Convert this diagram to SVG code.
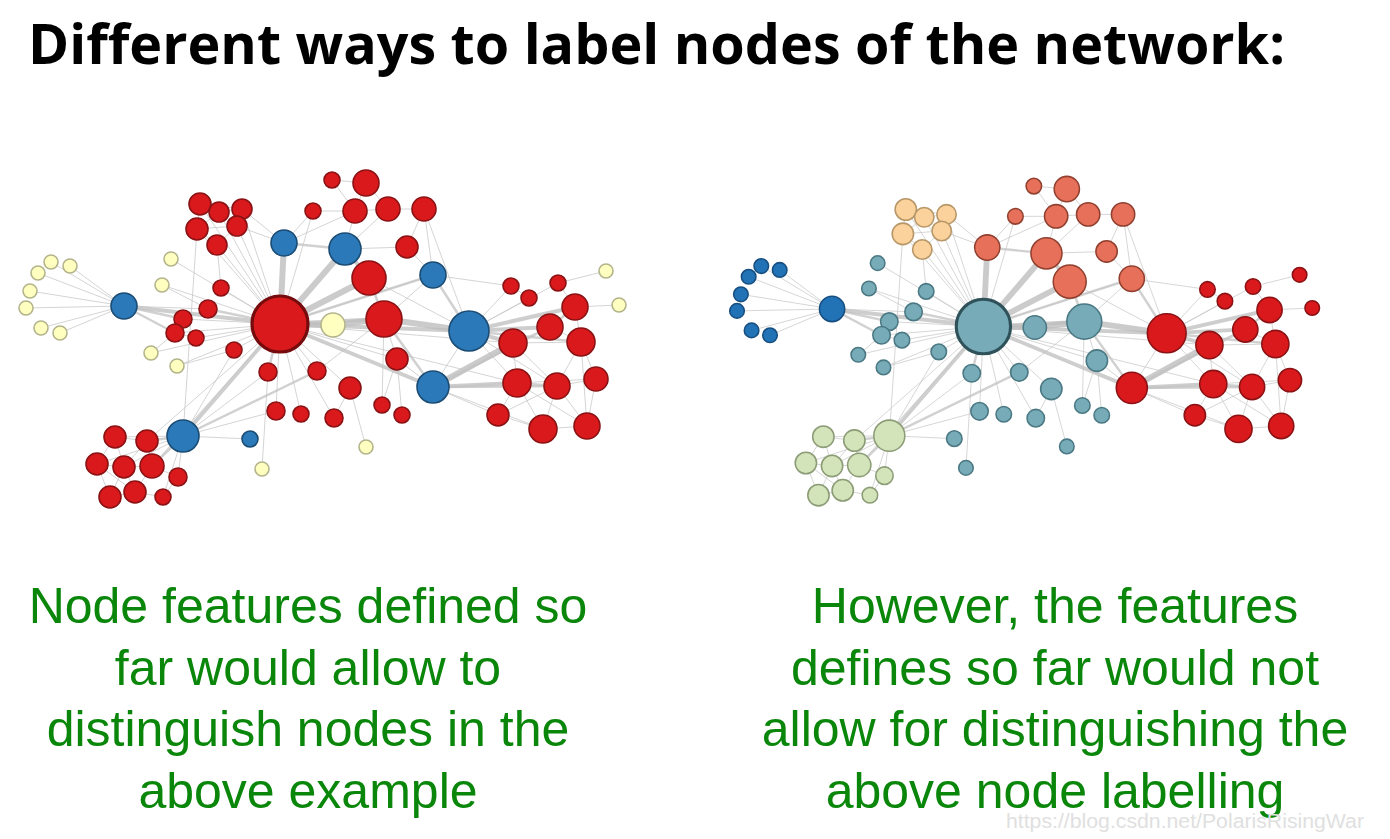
<svg xmlns="http://www.w3.org/2000/svg" xmlns:xlink="http://www.w3.org/1999/xlink" width="1390" height="839" viewBox="0 0 1390 839">
<style>
.title{font-family:"Open Sans","Liberation Sans",sans-serif;font-weight:bold;font-size:56px;fill:#000}
.cap{font-family:"Liberation Sans",Arial,sans-serif;font-size:50px;fill:#0a870a;text-anchor:middle}
.wm{font-family:"Liberation Sans",Arial,sans-serif;font-size:20px;fill:#e0e0e0}
.e line{stroke:#c6c6c6;stroke-width:1;stroke-opacity:.75;stroke-linecap:round}
.e line.w2{stroke:#c2c2c2;stroke-width:2.5}
.e line.w3{stroke:#bebebe;stroke-width:4}
.e line.w4{stroke:#bababa;stroke-width:6}
circle{stroke-width:1.6}
.red circle{fill:#d9191c;stroke:#8a1214}
.blue circle{fill:#2b79b8;stroke:#1b4c74}
.yel circle{fill:#ffffc0;stroke:#b4b48c}
.teal circle{fill:#76abb7;stroke:#4a7883}
.dblue circle{fill:#2272b6;stroke:#164e80}
.salm circle{fill:#e7705a;stroke:#91402f}
.peach circle{fill:#fbd19c;stroke:#b79768}
.green circle{fill:#d4e4ba;stroke:#8c9c76}
.hub circle{stroke-width:3.2}
.red.hub circle{stroke:#760b0d}
.teal.hub circle{stroke:#2f525a}
</style>
<defs>
<g id="edgeset" class="e">
<line x1="51" y1="262" x2="124" y2="306"/><line x1="70" y1="266" x2="124" y2="306"/><line x1="38" y1="273" x2="124" y2="306"/><line x1="30" y1="291" x2="124" y2="306"/><line x1="26" y1="308" x2="124" y2="306"/><line x1="41" y1="328" x2="124" y2="306"/><line x1="60" y1="333" x2="124" y2="306"/>
<line class="w3" x1="124" y1="306" x2="280" y2="324"/><line class="w2" x1="124" y1="306" x2="183" y2="319"/><line class="w2" x1="124" y1="306" x2="175" y2="333"/><line x1="124" y1="306" x2="208" y2="309"/>
<line x1="171" y1="259" x2="280" y2="324"/><line x1="162" y1="285" x2="208" y2="309"/><line x1="162" y1="285" x2="280" y2="324"/><line x1="151" y1="353" x2="175" y2="333"/><line x1="151" y1="353" x2="280" y2="324"/><line x1="177" y1="366" x2="234" y2="350"/><line x1="177" y1="366" x2="280" y2="324"/>
<line x1="221" y1="288" x2="280" y2="324"/><line class="w2" x1="208" y1="309" x2="280" y2="324"/><line x1="183" y1="319" x2="280" y2="324"/><line x1="175" y1="333" x2="280" y2="324"/><line x1="196" y1="338" x2="280" y2="324"/><line x1="234" y1="350" x2="280" y2="324"/><line x1="183" y1="319" x2="208" y2="309"/><line x1="175" y1="333" x2="196" y2="338"/>
<line class="w2" x1="268" y1="372" x2="280" y2="324"/><line x1="317" y1="371" x2="280" y2="324"/><line x1="276" y1="411" x2="280" y2="324"/><line x1="301" y1="414" x2="280" y2="324"/><line x1="334" y1="418" x2="280" y2="324"/><line x1="317" y1="371" x2="384" y2="319"/><line x1="334" y1="418" x2="350" y2="388"/>
<line x1="200" y1="204" x2="219" y2="212"/><line x1="219" y1="212" x2="242" y2="209"/><line x1="200" y1="204" x2="197" y2="229"/><line x1="197" y1="229" x2="217" y2="245"/><line x1="219" y1="212" x2="237" y2="226"/><line x1="242" y1="209" x2="237" y2="226"/><line x1="237" y1="226" x2="217" y2="245"/><line x1="197" y1="229" x2="237" y2="226"/><line x1="219" y1="212" x2="197" y2="229"/><line x1="200" y1="204" x2="242" y2="209"/>
<line x1="200" y1="204" x2="280" y2="324"/><line x1="219" y1="212" x2="280" y2="324"/><line x1="242" y1="209" x2="280" y2="324"/><line x1="197" y1="229" x2="280" y2="324"/><line x1="237" y1="226" x2="280" y2="324"/><line x1="217" y1="245" x2="280" y2="324"/><line x1="242" y1="209" x2="284" y2="243"/><line x1="217" y1="245" x2="221" y2="288"/><line x1="197" y1="229" x2="183" y2="436"/>
<line class="w4" x1="284" y1="243" x2="280" y2="324"/><line class="w2" x1="284" y1="243" x2="345" y2="249"/><line x1="284" y1="243" x2="355" y2="211"/><line x1="284" y1="243" x2="237" y2="226"/><line x1="284" y1="243" x2="313" y2="211"/>
<line x1="313" y1="211" x2="280" y2="324"/><line x1="313" y1="211" x2="355" y2="211"/><line x1="332" y1="180" x2="366" y2="183"/><line x1="332" y1="180" x2="355" y2="211"/><line x1="366" y1="183" x2="355" y2="211"/><line x1="366" y1="183" x2="388" y2="209"/><line x1="355" y1="211" x2="388" y2="209"/><line x1="388" y1="209" x2="424" y2="209"/><line x1="355" y1="211" x2="345" y2="249"/><line x1="388" y1="209" x2="345" y2="249"/><line x1="424" y1="209" x2="433" y2="275"/><line x1="424" y1="209" x2="469" y2="331"/><line x1="424" y1="209" x2="407" y2="247"/><line x1="407" y1="247" x2="345" y2="249"/><line x1="407" y1="247" x2="433" y2="275"/>
<line class="w3" x1="369" y1="278" x2="345" y2="249"/><line class="w4" x1="369" y1="278" x2="280" y2="324"/><line x1="369" y1="278" x2="469" y2="331"/><line class="w2" x1="369" y1="278" x2="384" y2="319"/><line class="w4" x1="345" y1="249" x2="280" y2="324"/><line class="w2" x1="433" y1="275" x2="280" y2="324"/><line class="w2" x1="433" y1="275" x2="469" y2="331"/><line x1="433" y1="275" x2="511" y2="286"/><line x1="433" y1="275" x2="384" y2="319"/>
<line class="w4" x1="333" y1="325" x2="280" y2="324"/><line class="w4" x1="333" y1="325" x2="384" y2="319"/><line class="w4" x1="384" y1="319" x2="469" y2="331"/><line class="w3" x1="384" y1="319" x2="280" y2="324"/><line class="w2" x1="384" y1="319" x2="433" y2="387"/><line x1="384" y1="319" x2="397" y2="359"/><line x1="397" y1="359" x2="280" y2="324"/>
<line class="w3" x1="469" y1="331" x2="575" y2="307"/><line class="w3" x1="469" y1="331" x2="550" y2="327"/><line class="w3" x1="469" y1="331" x2="513" y2="343"/><line class="w2" x1="469" y1="331" x2="581" y2="342"/><line x1="469" y1="331" x2="511" y2="286"/><line x1="469" y1="331" x2="529" y2="298"/><line x1="469" y1="331" x2="558" y2="283"/><line x1="469" y1="331" x2="517" y2="383"/><line x1="469" y1="331" x2="557" y2="386"/>
<line class="w4" x1="433" y1="387" x2="513" y2="343"/><line class="w3" x1="433" y1="387" x2="517" y2="383"/><line class="w2" x1="433" y1="387" x2="557" y2="386"/><line x1="433" y1="387" x2="498" y2="415"/><line x1="433" y1="387" x2="543" y2="429"/><line class="w2" x1="433" y1="387" x2="550" y2="327"/><line class="w3" x1="433" y1="387" x2="280" y2="324"/><line x1="433" y1="387" x2="397" y2="359"/><line x1="433" y1="387" x2="469" y2="331"/><line x1="433" y1="387" x2="596" y2="379"/>
<line x1="511" y1="286" x2="529" y2="298"/><line x1="558" y1="283" x2="575" y2="307"/><line x1="575" y1="307" x2="619" y2="305"/><line x1="558" y1="283" x2="606" y2="271"/><line class="w2" x1="575" y1="307" x2="550" y2="327"/><line x1="550" y1="327" x2="513" y2="343"/><line x1="550" y1="327" x2="581" y2="342"/><line x1="513" y1="343" x2="517" y2="383"/><line x1="581" y1="342" x2="557" y2="386"/><line class="w2" x1="517" y1="383" x2="557" y2="386"/><line x1="557" y1="386" x2="596" y2="379"/><line x1="517" y1="383" x2="543" y2="429"/><line x1="557" y1="386" x2="543" y2="429"/><line x1="543" y1="429" x2="587" y2="426"/><line x1="596" y1="379" x2="587" y2="426"/><line x1="498" y1="415" x2="543" y2="429"/><line x1="557" y1="386" x2="587" y2="426"/><line x1="581" y1="342" x2="596" y2="379"/><line x1="517" y1="383" x2="498" y2="415"/><line x1="575" y1="307" x2="581" y2="342"/><line x1="513" y1="343" x2="557" y2="386"/><line x1="517" y1="383" x2="587" y2="426"/><line x1="581" y1="342" x2="587" y2="426"/><line x1="498" y1="415" x2="557" y2="386"/><line x1="513" y1="343" x2="581" y2="342"/>
<line class="w3" x1="280" y1="324" x2="183" y2="436"/><line class="w3" x1="280" y1="324" x2="469" y2="331"/><line x1="280" y1="324" x2="350" y2="388"/><line x1="350" y1="388" x2="366" y2="447"/><line x1="382" y1="405" x2="384" y2="319"/><line x1="402" y1="415" x2="397" y2="359"/><line x1="382" y1="405" x2="397" y2="359"/><line x1="280" y1="324" x2="513" y2="343"/><line x1="280" y1="324" x2="517" y2="383"/><line x1="280" y1="324" x2="433" y2="275"/>
<line x1="183" y1="436" x2="250" y2="439"/><line x1="262" y1="469" x2="268" y2="372"/><line x1="183" y1="436" x2="115" y2="437"/><line class="w2" x1="183" y1="436" x2="147" y2="441"/><line x1="183" y1="436" x2="97" y2="464"/><line x1="183" y1="436" x2="124" y2="467"/><line class="w2" x1="183" y1="436" x2="152" y2="466"/><line x1="183" y1="436" x2="178" y2="477"/><line x1="183" y1="436" x2="163" y2="497"/><line x1="183" y1="436" x2="268" y2="372"/><line x1="183" y1="436" x2="234" y2="350"/><line x1="183" y1="436" x2="276" y2="411"/><line class="w2" x1="183" y1="436" x2="317" y2="371"/>
<line x1="115" y1="437" x2="147" y2="441"/><line x1="115" y1="437" x2="97" y2="464"/><line x1="97" y1="464" x2="124" y2="467"/><line x1="124" y1="467" x2="152" y2="466"/><line x1="147" y1="441" x2="152" y2="466"/><line x1="97" y1="464" x2="110" y2="497"/><line x1="110" y1="497" x2="135" y2="492"/><line x1="135" y1="492" x2="152" y2="466"/><line x1="124" y1="467" x2="135" y2="492"/><line x1="135" y1="492" x2="163" y2="497"/><line x1="152" y1="466" x2="178" y2="477"/><line x1="115" y1="437" x2="124" y2="467"/><line x1="147" y1="441" x2="124" y2="467"/><line x1="97" y1="464" x2="135" y2="492"/><line x1="178" y1="477" x2="163" y2="497"/><line x1="124" y1="467" x2="110" y2="497"/>
<line x1="147" y1="441" x2="280" y2="324"/><line x1="152" y1="466" x2="280" y2="324"/>
</g>
</defs>
<text class="title" x="28" y="64" textLength="1257" lengthAdjust="spacingAndGlyphs">Different ways to label nodes of the network:</text>
<g id="connectors">
<use id="edges-left" href="#edgeset" xlink:href="#edgeset"/>
<use id="edges-right" href="#edgeset" xlink:href="#edgeset" transform="matrix(0.97 0 0 0.975 711.8 10.6)"/>
</g>
<g id="left-network">
<g id="L-f1" class="yel"><circle cx="51" cy="262" r="7"/></g>
<g id="L-f2" class="yel"><circle cx="70" cy="266" r="7"/></g>
<g id="L-f3" class="yel"><circle cx="38" cy="273" r="7"/></g>
<g id="L-f4" class="yel"><circle cx="30" cy="291" r="7"/></g>
<g id="L-f5" class="yel"><circle cx="26" cy="308" r="7"/></g>
<g id="L-f6" class="yel"><circle cx="41" cy="328" r="7"/></g>
<g id="L-f7" class="yel"><circle cx="60" cy="333" r="7"/></g>
<g id="L-B1" class="blue"><circle cx="124" cy="306" r="13"/></g>
<g id="L-y1" class="yel"><circle cx="171" cy="259" r="7"/></g>
<g id="L-y2" class="yel"><circle cx="162" cy="285" r="7"/></g>
<g id="L-y3" class="yel"><circle cx="151" cy="353" r="7"/></g>
<g id="L-y4" class="yel"><circle cx="177" cy="366" r="7"/></g>
<g id="L-s1" class="red"><circle cx="221" cy="288" r="8"/></g>
<g id="L-s2" class="red"><circle cx="208" cy="309" r="9"/></g>
<g id="L-s3" class="red"><circle cx="183" cy="319" r="9"/></g>
<g id="L-s4" class="red"><circle cx="175" cy="333" r="9"/></g>
<g id="L-s5" class="red"><circle cx="196" cy="338" r="8"/></g>
<g id="L-s6" class="red"><circle cx="234" cy="350" r="8"/></g>
<g id="L-t1" class="red"><circle cx="268" cy="372" r="9"/></g>
<g id="L-t2" class="red"><circle cx="317" cy="371" r="9"/></g>
<g id="L-t3" class="red"><circle cx="276" cy="411" r="9"/></g>
<g id="L-t4" class="red"><circle cx="301" cy="414" r="8"/></g>
<g id="L-t5" class="red"><circle cx="334" cy="418" r="9"/></g>
<g id="L-p1" class="red"><circle cx="200" cy="204" r="11"/></g>
<g id="L-p2" class="red"><circle cx="219" cy="212" r="10"/></g>
<g id="L-p3" class="red"><circle cx="242" cy="209" r="10"/></g>
<g id="L-p5" class="red"><circle cx="237" cy="226" r="10"/></g>
<g id="L-p4" class="red"><circle cx="197" cy="229" r="11"/></g>
<g id="L-p6" class="red"><circle cx="217" cy="245" r="10"/></g>
<g id="L-o1" class="red"><circle cx="313" cy="211" r="8"/></g>
<g id="L-o2" class="red"><circle cx="332" cy="180" r="8"/></g>
<g id="L-B2" class="blue"><circle cx="284" cy="243" r="13"/></g>
<g id="L-o3" class="red"><circle cx="366" cy="183" r="13"/></g>
<g id="L-o4" class="red"><circle cx="355" cy="211" r="12"/></g>
<g id="L-o5" class="red"><circle cx="388" cy="209" r="12"/></g>
<g id="L-o6" class="red"><circle cx="424" cy="209" r="12"/></g>
<g id="L-B3" class="blue"><circle cx="345" cy="249" r="16"/></g>
<g id="L-o7" class="red"><circle cx="407" cy="247" r="11"/></g>
<g id="L-o8" class="red"><circle cx="369" cy="278" r="17"/></g>
<g id="L-B4" class="blue"><circle cx="433" cy="275" r="13"/></g>
<g id="L-H" class="red hub"><circle cx="280" cy="324" r="28"/></g>
<g id="L-Y5" class="yel"><circle cx="333" cy="325" r="12"/></g>
<g id="L-R2" class="red"><circle cx="384" cy="319" r="18"/></g>
<g id="L-B5" class="blue"><circle cx="469" cy="331" r="20"/></g>
<g id="L-u1" class="red"><circle cx="397" cy="359" r="11"/></g>
<g id="L-u2" class="red"><circle cx="350" cy="388" r="11"/></g>
<g id="L-u3" class="red"><circle cx="382" cy="405" r="8"/></g>
<g id="L-u4" class="red"><circle cx="402" cy="415" r="8"/></g>
<g id="L-y6" class="yel"><circle cx="366" cy="447" r="7"/></g>
<g id="L-B6" class="blue"><circle cx="433" cy="387" r="16"/></g>
<g id="L-c1" class="red"><circle cx="511" cy="286" r="8"/></g>
<g id="L-c2" class="red"><circle cx="529" cy="298" r="8"/></g>
<g id="L-c3" class="red"><circle cx="558" cy="283" r="8"/></g>
<g id="L-y7" class="yel"><circle cx="606" cy="271" r="7"/></g>
<g id="L-c4" class="red"><circle cx="575" cy="307" r="13"/></g>
<g id="L-y8" class="yel"><circle cx="619" cy="305" r="7"/></g>
<g id="L-c5" class="red"><circle cx="550" cy="327" r="13"/></g>
<g id="L-c6" class="red"><circle cx="513" cy="343" r="14"/></g>
<g id="L-c7" class="red"><circle cx="581" cy="342" r="14"/></g>
<g id="L-c8" class="red"><circle cx="517" cy="383" r="14"/></g>
<g id="L-c9" class="red"><circle cx="557" cy="386" r="13"/></g>
<g id="L-c10" class="red"><circle cx="596" cy="379" r="12"/></g>
<g id="L-c11" class="red"><circle cx="498" cy="415" r="11"/></g>
<g id="L-c12" class="red"><circle cx="543" cy="429" r="14"/></g>
<g id="L-c13" class="red"><circle cx="587" cy="426" r="13"/></g>
<g id="L-B7" class="blue"><circle cx="183" cy="436" r="16"/></g>
<g id="L-b8" class="blue"><circle cx="250" cy="439" r="8"/></g>
<g id="L-y9" class="yel"><circle cx="262" cy="469" r="7"/></g>
<g id="L-g1" class="red"><circle cx="115" cy="437" r="11"/></g>
<g id="L-g2" class="red"><circle cx="147" cy="441" r="11"/></g>
<g id="L-g3" class="red"><circle cx="97" cy="464" r="11"/></g>
<g id="L-g4" class="red"><circle cx="124" cy="467" r="11"/></g>
<g id="L-g5" class="red"><circle cx="152" cy="466" r="12"/></g>
<g id="L-g6" class="red"><circle cx="178" cy="477" r="9"/></g>
<g id="L-g7" class="red"><circle cx="110" cy="497" r="11"/></g>
<g id="L-g8" class="red"><circle cx="135" cy="492" r="11"/></g>
<g id="L-g9" class="red"><circle cx="163" cy="497" r="8"/></g>
</g>
<g id="right-network" transform="matrix(0.97 0 0 0.975 711.8 10.6)">
<g id="R-f1" class="dblue"><circle cx="51" cy="262" r="7.5"/></g>
<g id="R-f2" class="dblue"><circle cx="70" cy="266" r="7.5"/></g>
<g id="R-f3" class="dblue"><circle cx="38" cy="273" r="7.5"/></g>
<g id="R-f4" class="dblue"><circle cx="30" cy="291" r="7.5"/></g>
<g id="R-f5" class="dblue"><circle cx="26" cy="308" r="7.5"/></g>
<g id="R-f6" class="dblue"><circle cx="41" cy="328" r="7.5"/></g>
<g id="R-f7" class="dblue"><circle cx="60" cy="333" r="7.5"/></g>
<g id="R-B1" class="dblue"><circle cx="124" cy="306" r="13"/></g>
<g id="R-y1" class="teal"><circle cx="171" cy="259" r="7.5"/></g>
<g id="R-y2" class="teal"><circle cx="162" cy="285" r="7.5"/></g>
<g id="R-y3" class="teal"><circle cx="151" cy="353" r="7.5"/></g>
<g id="R-y4" class="teal"><circle cx="177" cy="366" r="7.5"/></g>
<g id="R-s1" class="teal"><circle cx="221" cy="288" r="8"/></g>
<g id="R-s2" class="teal"><circle cx="208" cy="309" r="9"/></g>
<g id="R-s3" class="teal"><circle cx="183" cy="319" r="9"/></g>
<g id="R-s4" class="teal"><circle cx="175" cy="333" r="9"/></g>
<g id="R-s5" class="teal"><circle cx="196" cy="338" r="8"/></g>
<g id="R-s6" class="teal"><circle cx="234" cy="350" r="8"/></g>
<g id="R-t1" class="teal"><circle cx="268" cy="372" r="9"/></g>
<g id="R-t2" class="teal"><circle cx="317" cy="371" r="9"/></g>
<g id="R-t3" class="teal"><circle cx="276" cy="411" r="9"/></g>
<g id="R-t4" class="teal"><circle cx="301" cy="414" r="8"/></g>
<g id="R-t5" class="teal"><circle cx="334" cy="418" r="9"/></g>
<g id="R-p1" class="peach"><circle cx="200" cy="204" r="11"/></g>
<g id="R-p2" class="peach"><circle cx="219" cy="212" r="10"/></g>
<g id="R-p3" class="peach"><circle cx="242" cy="209" r="10"/></g>
<g id="R-p5" class="peach"><circle cx="237" cy="226" r="10"/></g>
<g id="R-p4" class="peach"><circle cx="197" cy="229" r="11"/></g>
<g id="R-p6" class="peach"><circle cx="217" cy="245" r="10"/></g>
<g id="R-o1" class="salm"><circle cx="313" cy="211" r="8"/></g>
<g id="R-o2" class="salm"><circle cx="332" cy="180" r="8"/></g>
<g id="R-B2" class="salm"><circle cx="284" cy="243" r="13"/></g>
<g id="R-o3" class="salm"><circle cx="366" cy="183" r="13"/></g>
<g id="R-o4" class="salm"><circle cx="355" cy="211" r="12"/></g>
<g id="R-o5" class="salm"><circle cx="388" cy="209" r="12"/></g>
<g id="R-o6" class="salm"><circle cx="424" cy="209" r="12"/></g>
<g id="R-B3" class="salm"><circle cx="345" cy="249" r="16"/></g>
<g id="R-o7" class="salm"><circle cx="407" cy="247" r="11"/></g>
<g id="R-o8" class="salm"><circle cx="369" cy="278" r="17"/></g>
<g id="R-B4" class="salm"><circle cx="433" cy="275" r="13"/></g>
<g id="R-H" class="teal hub"><circle cx="280" cy="324" r="28"/></g>
<g id="R-Y5" class="teal"><circle cx="333" cy="325" r="12"/></g>
<g id="R-R2" class="teal"><circle cx="384" cy="319" r="18"/></g>
<g id="R-B5" class="red"><circle cx="469" cy="331" r="20"/></g>
<g id="R-u1" class="teal"><circle cx="397" cy="359" r="11"/></g>
<g id="R-u2" class="teal"><circle cx="350" cy="388" r="11"/></g>
<g id="R-u3" class="teal"><circle cx="382" cy="405" r="8"/></g>
<g id="R-u4" class="teal"><circle cx="402" cy="415" r="8"/></g>
<g id="R-y6" class="teal"><circle cx="366" cy="447" r="7.5"/></g>
<g id="R-B6" class="red"><circle cx="433" cy="387" r="16"/></g>
<g id="R-c1" class="red"><circle cx="511" cy="286" r="8"/></g>
<g id="R-c2" class="red"><circle cx="529" cy="298" r="8"/></g>
<g id="R-c3" class="red"><circle cx="558" cy="283" r="8"/></g>
<g id="R-y7" class="red"><circle cx="606" cy="271" r="7.5"/></g>
<g id="R-c4" class="red"><circle cx="575" cy="307" r="13"/></g>
<g id="R-y8" class="red"><circle cx="619" cy="305" r="7.5"/></g>
<g id="R-c5" class="red"><circle cx="550" cy="327" r="13"/></g>
<g id="R-c6" class="red"><circle cx="513" cy="343" r="14"/></g>
<g id="R-c7" class="red"><circle cx="581" cy="342" r="14"/></g>
<g id="R-c8" class="red"><circle cx="517" cy="383" r="14"/></g>
<g id="R-c9" class="red"><circle cx="557" cy="386" r="13"/></g>
<g id="R-c10" class="red"><circle cx="596" cy="379" r="12"/></g>
<g id="R-c11" class="red"><circle cx="498" cy="415" r="11"/></g>
<g id="R-c12" class="red"><circle cx="543" cy="429" r="14"/></g>
<g id="R-c13" class="red"><circle cx="587" cy="426" r="13"/></g>
<g id="R-B7" class="green"><circle cx="183" cy="436" r="16"/></g>
<g id="R-b8" class="teal"><circle cx="250" cy="439" r="8"/></g>
<g id="R-y9" class="teal"><circle cx="262" cy="469" r="7.5"/></g>
<g id="R-g1" class="green"><circle cx="115" cy="437" r="11"/></g>
<g id="R-g2" class="green"><circle cx="147" cy="441" r="11"/></g>
<g id="R-g3" class="green"><circle cx="97" cy="464" r="11"/></g>
<g id="R-g4" class="green"><circle cx="124" cy="467" r="11"/></g>
<g id="R-g5" class="green"><circle cx="152" cy="466" r="12"/></g>
<g id="R-g6" class="green"><circle cx="178" cy="477" r="9"/></g>
<g id="R-g7" class="green"><circle cx="110" cy="497" r="11"/></g>
<g id="R-g8" class="green"><circle cx="135" cy="492" r="11"/></g>
<g id="R-g9" class="green"><circle cx="163" cy="497" r="8"/></g>
</g>
<g id="left-caption">
<text class="cap" x="308" y="623">Node features defined so</text>
<text class="cap" x="308" y="684.5">far would allow to</text>
<text class="cap" x="308" y="746">distinguish nodes in the</text>
<text class="cap" x="308" y="807.5">above example</text>
</g>
<g id="right-caption">
<text class="cap" x="1055" y="623">However, the features</text>
<text class="cap" x="1055" y="684.5">defines so far would not</text>
<text class="cap" x="1055" y="746">allow for distinguishing the</text>
<text class="cap" x="1055" y="807.5">above node labelling</text>
</g>
<text class="wm" x="1006" y="828" textLength="358" lengthAdjust="spacingAndGlyphs">https://blog.csdn.net/PolarisRisingWar</text>
</svg>
